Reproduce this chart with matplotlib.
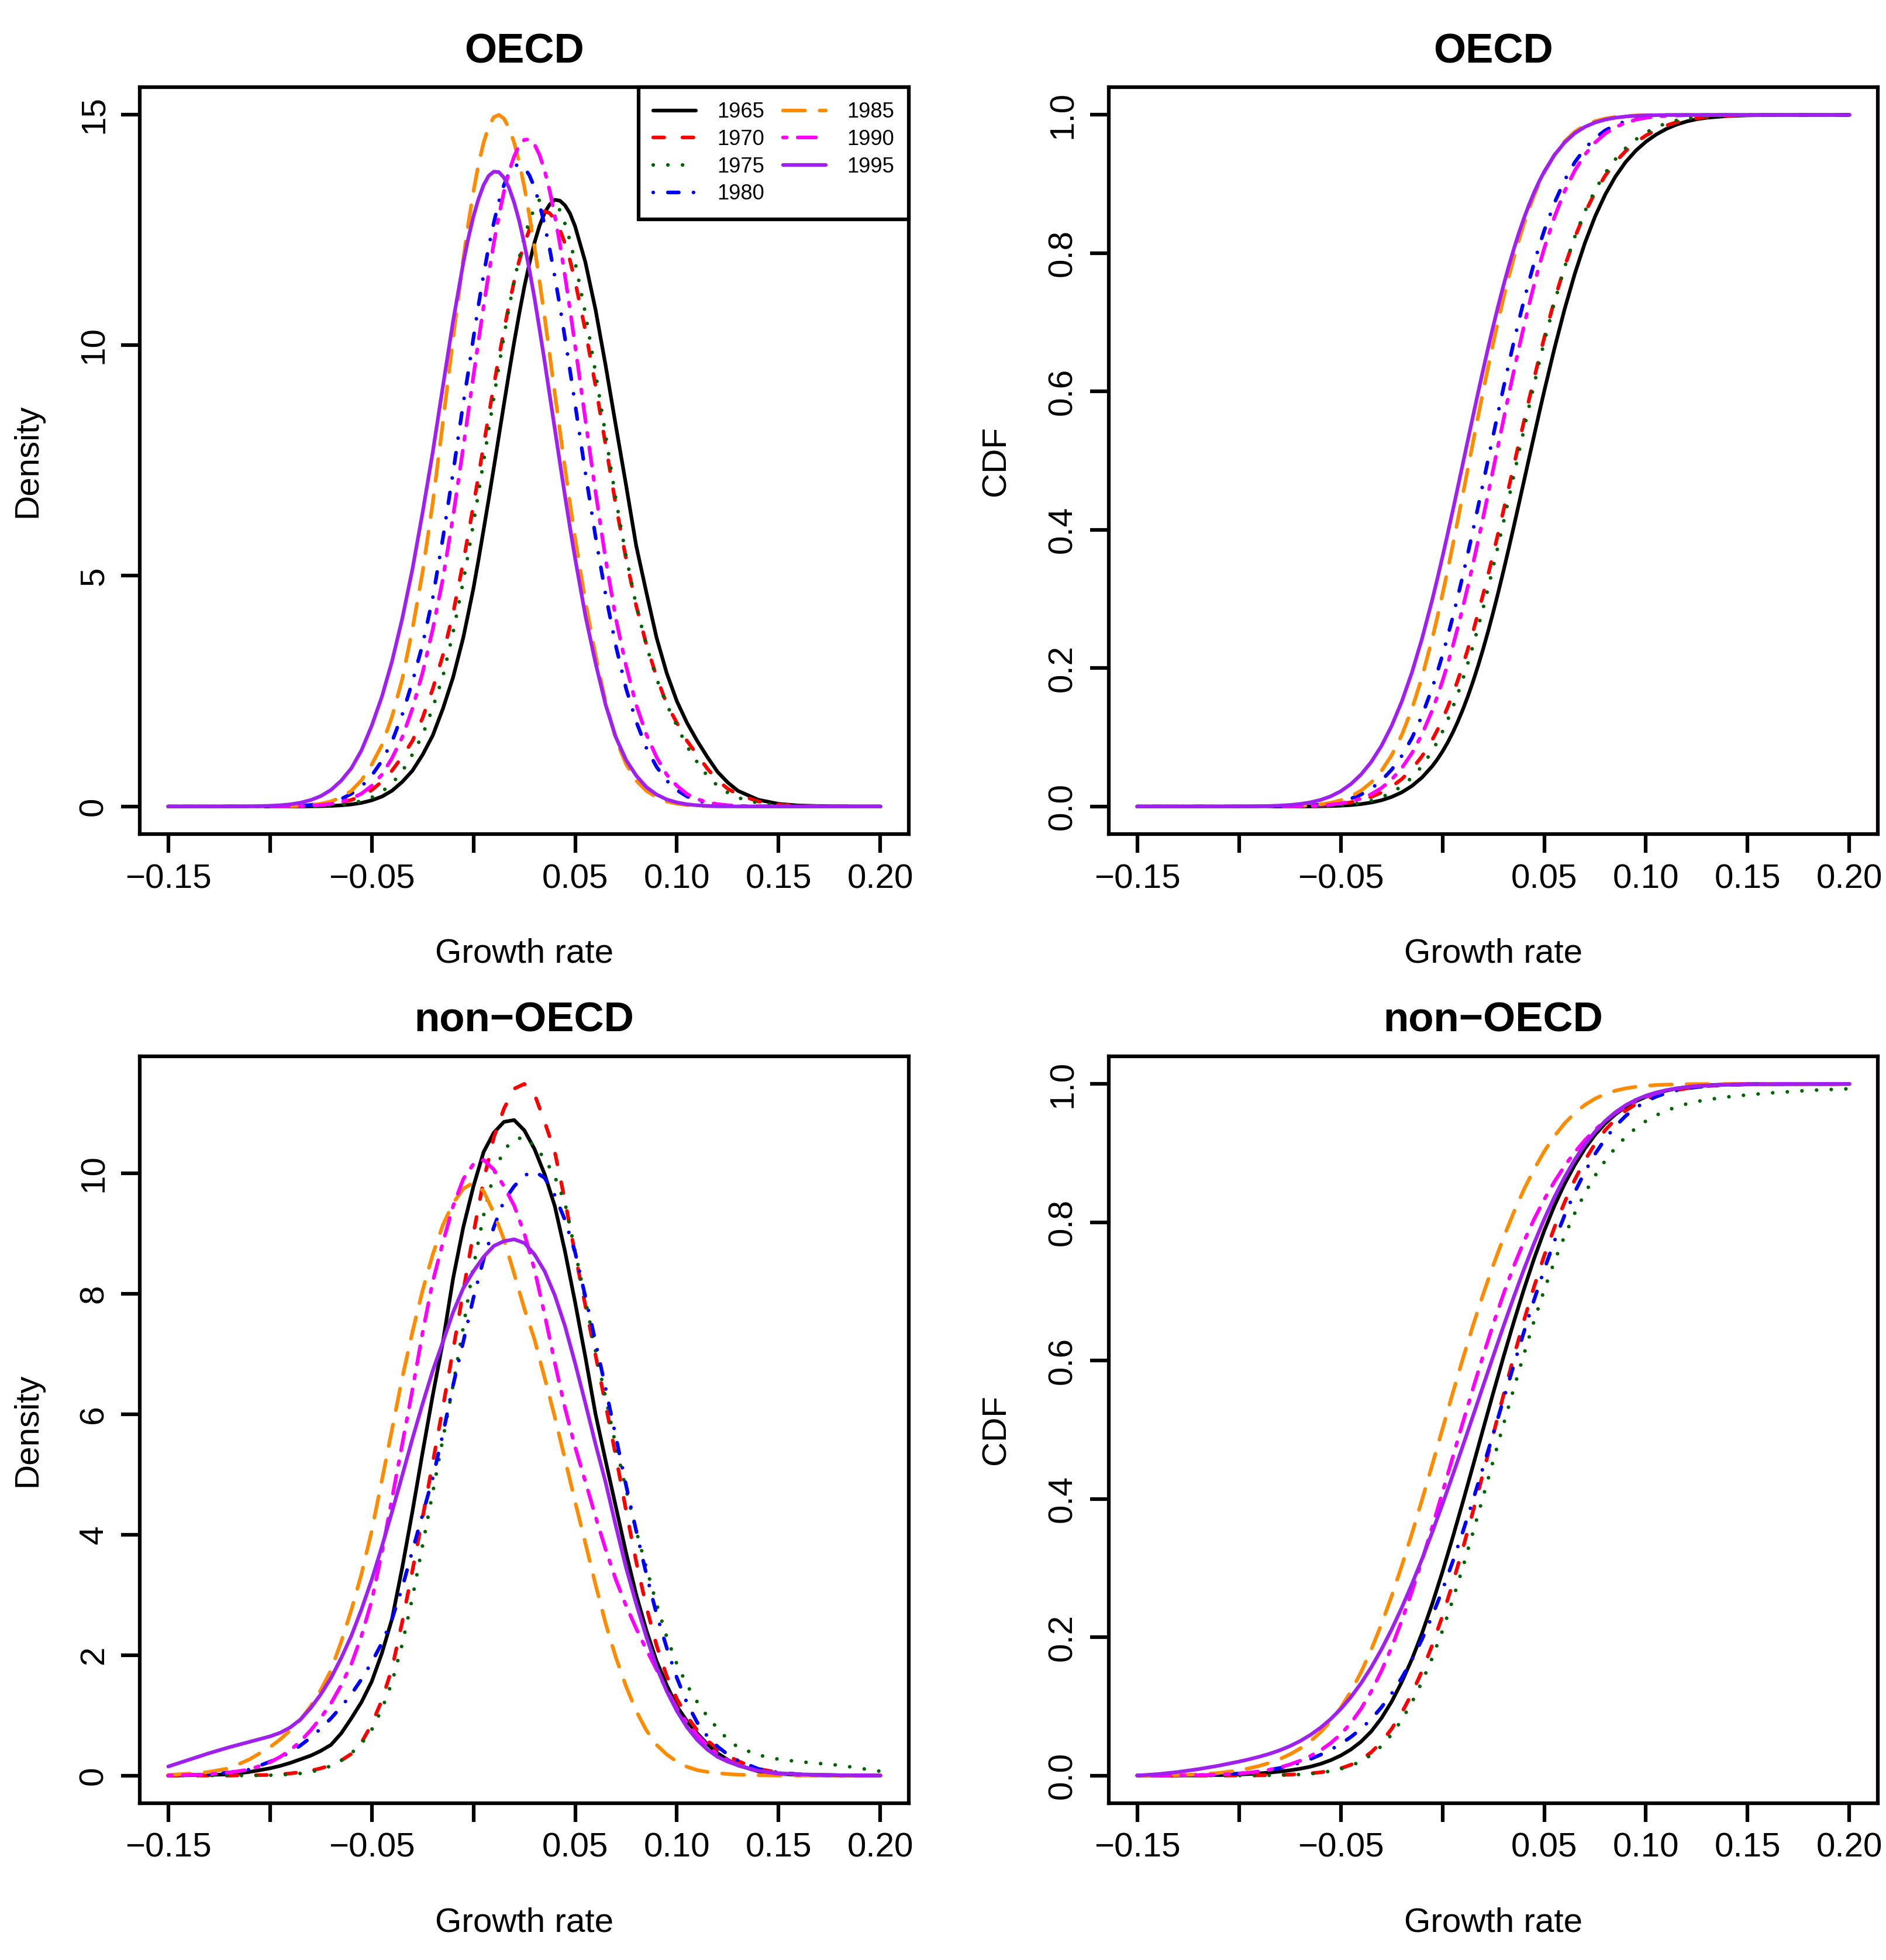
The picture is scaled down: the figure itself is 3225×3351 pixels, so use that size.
import numpy as np
import matplotlib.pyplot as plt

plt.rcParams['font.family'] = ['Liberation Sans', 'DejaVu Sans']

# growth rates the OECD curves were read at (finer round the peaks)
growth_oecd = [-0.15, -0.14, -0.13, -0.12, -0.11,
               -0.10, -0.095, -0.09, -0.085, -0.08, -0.075, -0.07, -0.065, -0.06, -0.055,
               -0.05, -0.045, -0.04, -0.035, -0.03, -0.025, -0.02, -0.015, -0.01,
               -0.005, -0.0025, 0.0, 0.0025, 0.005, 0.0075, 0.01, 0.0125, 0.015, 0.0175,
               0.02, 0.0225, 0.025, 0.0275, 0.03, 0.0325, 0.035, 0.0375, 0.04, 0.0425,
               0.045, 0.0475, 0.05,
               0.055, 0.06, 0.065, 0.07, 0.075, 0.08, 0.085, 0.09, 0.095,
               0.10, 0.105, 0.11, 0.115, 0.12, 0.125, 0.13,
               0.14, 0.15, 0.16, 0.18, 0.20]

# growth rates the non-OECD curves were read at
growth_nonoecd = [-0.15, -0.14, -0.13, -0.12, -0.11,
                  -0.10, -0.095, -0.09, -0.085, -0.08, -0.075, -0.07, -0.065, -0.06, -0.055,
                  -0.05, -0.045, -0.04, -0.035, -0.03, -0.025, -0.02, -0.015, -0.01, -0.005,
                  0.0, 0.005, 0.01, 0.015, 0.02, 0.025, 0.03, 0.035, 0.04, 0.045,
                  0.05, 0.055, 0.06, 0.065, 0.07, 0.075, 0.08, 0.085, 0.09, 0.095,
                  0.10, 0.105, 0.11, 0.115, 0.12, 0.125, 0.13,
                  0.14, 0.15, 0.16, 0.18, 0.20]

years = ['1965', '1970', '1975', '1980', '1985', '1990', '1995']

# OECD densities
oecd_1965 = [0, 0, 0, 0, 0,
             0.0002, 0.0005, 0.001, 0.002, 0.004, 0.0074, 0.014, 0.026, 0.045, 0.079,
             0.134, 0.215, 0.343, 0.534, 0.776, 1.12, 1.54, 2.12, 2.80,
             3.66, 4.19, 4.73, 5.35, 6.00, 6.66, 7.34, 8.03, 8.72, 9.40,
             10.06, 10.68, 11.26, 11.77, 12.22, 12.59, 12.87, 13.05, 13.15, 13.13,
             13.03, 12.85, 12.57,
             11.80, 10.77, 9.55, 8.25, 6.97, 5.65, 4.64, 3.66, 2.89,
             2.28, 1.81, 1.42, 1.07, 0.75, 0.52, 0.34,
             0.146, 0.057, 0.02, 0.002, 0]
oecd_1970 = [0, 0, 0, 0, 0.0004,
             0.0015, 0.003, 0.0055, 0.0098, 0.018, 0.031, 0.054, 0.090, 0.143, 0.23,
             0.356, 0.54, 0.78, 1.08, 1.42, 1.92, 2.55, 3.28, 4.19,
             5.30, 5.91, 6.53, 7.17, 7.83, 8.48, 9.12, 9.74, 10.32, 10.88,
             11.38, 11.83, 12.20, 12.50, 12.72, 12.86, 12.90, 12.86, 12.72, 12.50,
             12.20, 11.83, 11.38,
             10.32, 9.12, 7.83, 6.53, 5.37, 4.35, 3.51, 2.81, 2.22,
             1.81, 1.42, 1.12, 0.82, 0.566, 0.386, 0.26,
             0.11, 0.042, 0.015, 0.0015, 0]
oecd_1975 = [0, 0, 0, 0, 0,
             0.0003, 0.0008, 0.0016, 0.0033, 0.0066, 0.012, 0.023, 0.041, 0.072, 0.122,
             0.197, 0.32, 0.50, 0.76, 1.13, 1.55, 2.14, 2.82, 3.77,
             4.88, 5.49, 6.14, 6.80, 7.49, 8.17, 8.86, 9.54, 10.19, 10.81,
             11.38, 11.89, 12.34, 12.69, 12.97, 13.15, 13.24, 13.23, 13.12, 12.92,
             12.63, 12.25, 11.79,
             10.69, 9.41, 8.04, 6.66, 5.43, 4.36, 3.49, 2.77, 2.21,
             1.75, 1.30, 0.96, 0.66, 0.45, 0.30, 0.19,
             0.074, 0.026, 0.008, 0.0005, 0]
oecd_1980 = [0, 0, 0, 0, 0.0006,
             0.0024, 0.0047, 0.0095, 0.017, 0.033, 0.057, 0.10, 0.163, 0.276, 0.436,
             0.67, 0.99, 1.41, 1.99, 2.70, 3.51, 4.52, 5.82, 7.24,
             8.74, 9.43, 10.16, 10.87, 11.53, 12.13, 12.65, 13.11, 13.47, 13.73,
             13.88, 13.92, 13.85, 13.68, 13.42, 13.05, 12.60, 12.08, 11.48, 10.84,
             10.15, 9.44, 8.71,
             7.24, 5.85, 4.58, 3.48, 2.56, 1.84, 1.27, 0.86, 0.56,
             0.354, 0.217, 0.13, 0.076, 0.042, 0.022, 0.012,
             0.003, 0.0008, 0, 0, 0]
oecd_1985 = [0, 0, 0, 0, 0.0003,
             0.0016, 0.0035, 0.0078, 0.015, 0.032, 0.06, 0.11, 0.20, 0.34, 0.57,
             0.91, 1.33, 1.95, 2.76, 3.84, 5.08, 6.58, 8.33, 10.15,
             11.86, 12.64, 13.33, 13.92, 14.39, 14.74, 14.94, 14.99, 14.91, 14.70,
             14.39, 13.96, 13.43, 12.81, 12.13, 11.38, 10.60, 9.78, 8.95, 8.14,
             7.33, 6.55, 5.80,
             4.44, 3.28, 2.26, 1.46, 0.92, 0.56, 0.34, 0.20, 0.11,
             0.061, 0.033, 0.017, 0.008, 0.004, 0.0018, 0.0008,
             0, 0, 0, 0, 0]
oecd_1990 = [0, 0, 0, 0, 0.0002,
             0.001, 0.0022, 0.0045, 0.0091, 0.017, 0.032, 0.057, 0.10, 0.17, 0.28,
             0.45, 0.69, 1.05, 1.50, 2.12, 2.90, 3.84, 4.94, 6.29,
             7.79, 8.56, 9.33, 10.10, 10.84, 11.55, 12.21, 12.80, 13.33, 13.76,
             14.09, 14.33, 14.45, 14.46, 14.35, 14.12, 13.78, 13.34, 12.80, 12.19,
             11.50, 10.76, 9.98,
             8.39, 6.82, 5.35, 4.07, 3.05, 2.20, 1.56, 1.07, 0.69,
             0.45, 0.27, 0.16, 0.092, 0.05, 0.027, 0.014,
             0.003, 0.0006, 0, 0, 0]
oecd_1995 = [0, 0, 0.0002, 0.0012, 0.0041,
             0.015, 0.027, 0.047, 0.083, 0.14, 0.226, 0.36, 0.56, 0.83, 1.22,
             1.75, 2.38, 3.15, 4.07, 5.14, 6.37, 7.68, 9.11, 10.52,
             11.78, 12.32, 12.79, 13.17, 13.47, 13.67, 13.76, 13.75, 13.63, 13.41,
             13.09, 12.69, 12.20, 11.63, 11.02, 10.34, 9.64, 8.91, 8.18, 7.45,
             6.73, 6.03, 5.37,
             4.14, 3.11, 2.20, 1.50, 1.01, 0.67, 0.42, 0.26, 0.153,
             0.088, 0.048, 0.026, 0.014, 0.007, 0.0035, 0.0016,
             0.0003, 0, 0, 0, 0]

# non-OECD densities
nonoecd_1965 = [0, 0.005, 0.01, 0.02, 0.06,
                0.12, 0.16, 0.21, 0.27, 0.33, 0.41, 0.51, 0.70, 0.95, 1.22,
                1.56, 2.03, 2.60, 3.45, 4.38, 5.36, 6.31, 7.20, 8.25, 9.10,
                9.78, 10.35, 10.67, 10.85, 10.88, 10.71, 10.40, 9.98, 9.45, 8.70,
                7.85, 6.95, 6.00, 5.22, 4.46, 3.70, 3.00, 2.41, 1.90, 1.50,
                1.15, 0.90, 0.70, 0.52, 0.37, 0.26, 0.17,
                0.07, 0.03, 0.01, 0, 0]
nonoecd_1970 = [0, 0, 0, 0, 0.005,
                0.01, 0.02, 0.035, 0.055, 0.08, 0.12, 0.17, 0.25, 0.36, 0.55,
                0.85, 1.25, 1.78, 2.55, 3.40, 4.28, 5.19, 6.12, 7.06, 8.04,
                9.00, 9.88, 10.59, 11.07, 11.40, 11.48, 11.31, 10.85, 10.35, 9.54,
                8.65, 7.80, 6.98, 6.15, 5.30, 4.40, 3.55, 2.80, 2.16, 1.65,
                1.27, 0.98, 0.75, 0.58, 0.44, 0.33, 0.24,
                0.11, 0.05, 0.02, 0.005, 0]
nonoecd_1975 = [0, 0, 0, 0, 0,
                0.005, 0.01, 0.02, 0.035, 0.06, 0.10, 0.16, 0.25, 0.37, 0.53,
                0.76, 1.10, 1.55, 2.18, 2.95, 3.82, 4.70, 5.59, 6.48, 7.44,
                8.45, 9.30, 9.98, 10.39, 10.55, 10.60, 10.45, 10.24, 9.94, 9.50,
                8.70, 7.90, 7.05, 6.27, 5.47, 4.75, 4.06, 3.45, 2.85, 2.30,
                1.85, 1.50, 1.22, 0.98, 0.78, 0.60, 0.47,
                0.34, 0.27, 0.23, 0.17, 0.07]
nonoecd_1980 = [0, 0.01, 0.02, 0.05, 0.10,
                0.23, 0.30, 0.39, 0.50, 0.63, 0.78, 0.95, 1.14, 1.35, 1.60,
                1.88, 2.20, 2.60, 3.12, 3.73, 4.33, 4.94, 5.67, 6.48, 7.20,
                7.93, 8.57, 9.10, 9.54, 9.78, 9.96, 10.03, 9.92, 9.63, 9.22,
                8.68, 7.95, 7.20, 6.42, 5.62, 4.82, 4.06, 3.34, 2.68, 2.12,
                1.62, 1.20, 0.88, 0.65, 0.48, 0.35, 0.25,
                0.11, 0.05, 0.02, 0.005, 0]
nonoecd_1985 = [0.01, 0.03, 0.06, 0.12, 0.27,
                0.47, 0.60, 0.75, 0.93, 1.15, 1.42, 1.75, 2.22, 2.75, 3.35,
                4.06, 4.90, 5.75, 6.60, 7.36, 8.05, 8.65, 9.14, 9.50, 9.74,
                9.84, 9.70, 9.34, 8.90, 8.33, 7.75, 7.24, 6.60, 5.95, 5.25,
                4.54, 3.86, 3.17, 2.52, 1.96, 1.48, 1.07, 0.75, 0.51, 0.35,
                0.23, 0.145, 0.09, 0.06, 0.04, 0.025, 0.015,
                0.005, 0, 0, 0, 0]
nonoecd_1990 = [0, 0.01, 0.02, 0.05, 0.10,
                0.22, 0.31, 0.42, 0.57, 0.75, 0.96, 1.20, 1.50, 1.85, 2.32,
                2.90, 3.70, 4.60, 5.50, 6.40, 7.35, 8.20, 8.85, 9.45, 9.90,
                10.15, 10.22, 10.06, 9.78, 9.46, 9.00, 8.40, 7.65, 6.85, 6.10,
                5.45, 4.88, 4.30, 3.75, 3.25, 2.82, 2.44, 2.09, 1.76, 1.42,
                1.11, 0.87, 0.67, 0.50, 0.35, 0.25, 0.17,
                0.07, 0.03, 0.01, 0, 0]
nonoecd_1995 = [0.15, 0.26, 0.37, 0.47, 0.56,
                0.65, 0.71, 0.80, 0.93, 1.12, 1.35, 1.62, 1.95, 2.32, 2.76,
                3.25, 3.80, 4.38, 4.98, 5.59, 6.17, 6.72, 7.20, 7.69, 8.09,
                8.37, 8.61, 8.79, 8.87, 8.90, 8.84, 8.65, 8.37, 7.97, 7.46,
                6.84, 6.18, 5.50, 4.86, 4.14, 3.45, 2.85, 2.30, 1.80, 1.40,
                1.07, 0.80, 0.59, 0.43, 0.31, 0.23, 0.17,
                0.08, 0.04, 0.02, 0.005, 0]

# level each CDF reaches at 0.20
oecd_cdf_end = [1.0, 1.0, 1.0, 1.0, 1.0, 1.0, 1.0]
nonoecd_cdf_end = [1.0, 1.0, 0.993, 1.0, 1.0, 1.0, 1.0]

oecd = [oecd_1965, oecd_1970, oecd_1975, oecd_1980, oecd_1985, oecd_1990, oecd_1995]
nonoecd = [nonoecd_1965, nonoecd_1970, nonoecd_1975, nonoecd_1980,
           nonoecd_1985, nonoecd_1990, nonoecd_1995]

# R colours and line types 1..6, then solid purple
colors = ['black', '#FF0000', '#006400', '#0000FF', '#FF8C00', '#FF00FF', '#A020F0']
styles = ['-', (0, (3, 5)), (0, (0.01, 4)), (0, (0.01, 4, 3, 4)),
          (0, (6, 4)), (0, (1, 3, 5, 3)), '-']

LW = 1.5
xticks = [-0.15, -0.10, -0.05, 0.0, 0.05, 0.10, 0.15, 0.20]
xticklabels = ['\u22120.15', '', '\u22120.05', '', '0.05', '0.10', '0.15', '0.20']


def cdf_of(x, dens, end):
    x = np.asarray(x)
    d = np.asarray(dens)
    c = np.concatenate([[0.0], np.cumsum(np.diff(x) * (d[1:] + d[:-1]) / 2)])
    return c / c[-1] * end


def style_axes(ax, title, ylab, yticks, yticklabels):
    ax.set_xlim(-0.15 - 0.014, 0.20 + 0.014)
    ax.set_xticks(xticks)
    ax.set_xticklabels(xticklabels)
    ax.set_yticks(yticks)
    ax.set_yticklabels(yticklabels)
    for s in ax.spines.values():
        s.set_linewidth(LW)
    ax.tick_params(axis='both', direction='out', length=7.7, width=LW,
                   labelsize=14, top=False, right=False)
    ax.tick_params(axis='x', pad=4.3)
    ax.tick_params(axis='y', pad=4.6, labelrotation=90)
    for lab in ax.get_yticklabels():
        lab.set_va('center')
    ax.set_title(title, fontsize=17, fontweight='bold', y=1.047, va='center', pad=0)
    ax.set_xlabel('Growth rate', fontsize=14)
    ax.xaxis.set_label_coords(0.5, -0.160)
    ax.xaxis.label.set_va('center')
    ax.set_ylabel(ylab, fontsize=14)
    ax.yaxis.set_label_coords(-0.146, 0.5)
    ax.yaxis.label.set_va('center')


fig = plt.figure(figsize=(10.75, 11.17), dpi=300)
col_x = [0.0741, 0.5879]
row_y = [0.5744, 0.0800]
w, h = 0.4078, 0.3811

titles = ['OECD', 'non\u2212OECD']
groups = [(growth_oecd, oecd, oecd_cdf_end), (growth_nonoecd, nonoecd, nonoecd_cdf_end)]

for r, (grid, dens_list, ends) in enumerate(groups):
    ax_d = fig.add_axes([col_x[0], row_y[r], w, h])
    ax_c = fig.add_axes([col_x[1], row_y[r], w, h])

    for i, dens in enumerate(dens_list):
        ax_d.plot(grid, dens, color=colors[i], linestyle=styles[i], lw=LW,
                  dash_capstyle='round', solid_capstyle='round',
                  solid_joinstyle='round', label=years[i])
        ax_c.plot(grid, cdf_of(grid, dens, ends[i]), color=colors[i],
                  linestyle=styles[i], lw=LW, dash_capstyle='round',
                  solid_capstyle='round', solid_joinstyle='round')

    ymax = max(max(d) for d in dens_list)
    ax_d.set_ylim(-0.04 * ymax, 1.04 * ymax)
    if r == 0:
        dt = [0, 5, 10, 15]
    else:
        dt = [0, 2, 4, 6, 8, 10]
    style_axes(ax_d, titles[r], 'Density', dt, [str(t) for t in dt])

    ax_c.set_ylim(-0.04, 1.04)
    ct = [0.0, 0.2, 0.4, 0.6, 0.8, 1.0]
    style_axes(ax_c, titles[r], 'CDF', ct, ['%.1f' % t for t in ct])

    if r == 0:
        leg = ax_d.legend(loc='upper right', ncol=2, fontsize=8.7,
                          borderaxespad=0, borderpad=0.7, handlelength=2.0,
                          handletextpad=1.0, columnspacing=0.89, labelspacing=0.32,
                          fancybox=False, framealpha=1)
        leg.get_frame().set_edgecolor('black')
        leg.get_frame().set_linewidth(LW)

fig.savefig('out.png', dpi=300)
